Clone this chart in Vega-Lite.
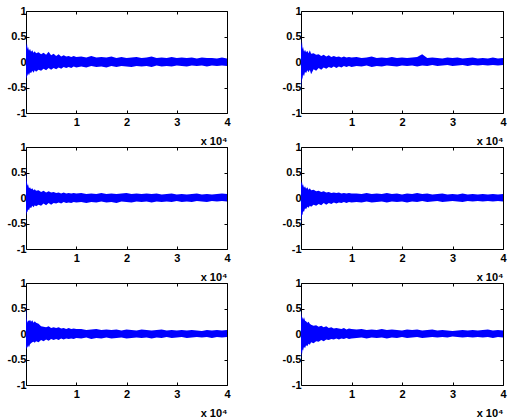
{
"$schema": "https://vega.github.io/schema/vega-lite/v6.json",
"padding": {"left": 7, "top": 5, "right": 2, "bottom": 1},
"bounds": "flush",
"spacing": {"row": 34, "column": 74},
"columns": 2,
"datasets": {
"p1": [
{"x":0,"h":0.42,"l":-0.30},{"x":100,"h":0.30,"l":-0.33},{"x":200,"h":0.36,"l":-0.25},{"x":300,"h":0.25,"l":-0.28},{"x":400,"h":0.30,"l":-0.22},{"x":600,"h":0.22,"l":-0.26},{"x":800,"h":0.26,"l":-0.20},{"x":1000,"h":0.20,"l":-0.22},{"x":1250,"h":0.23,"l":-0.17},{"x":1500,"h":0.18,"l":-0.21},{"x":1750,"h":0.21,"l":-0.16},
{"x":2000,"h":0.17,"l":-0.19},{"x":2500,"h":0.19,"l":-0.15},{"x":3000,"h":0.15,"l":-0.17},{"x":3500,"h":0.18,"l":-0.13},{"x":4000,"h":0.14,"l":-0.16},{"x":4500,"h":0.20,"l":-0.12},{"x":5000,"h":0.13,"l":-0.15},{"x":5500,"h":0.16,"l":-0.12},{"x":6000,"h":0.12,"l":-0.14},{"x":6500,"h":0.15,"l":-0.11},{"x":7000,"h":0.11,"l":-0.13},{"x":7500,"h":0.13,"l":-0.10},{"x":8000,"h":0.11,"l":-0.12},{"x":8500,"h":0.12,"l":-0.10},{"x":9000,"h":0.10,"l":-0.12},{"x":9500,"h":0.12,"l":-0.09},{"x":10000,"h":0.10,"l":-0.11},
{"x":11000,"h":0.11,"l":-0.09},{"x":12000,"h":0.09,"l":-0.11},{"x":13000,"h":0.12,"l":-0.08},{"x":14000,"h":0.09,"l":-0.10},{"x":15000,"h":0.10,"l":-0.09},{"x":16000,"h":0.09,"l":-0.11},{"x":17000,"h":0.11,"l":-0.08},{"x":18000,"h":0.08,"l":-0.10},{"x":19000,"h":0.10,"l":-0.08},{"x":20000,"h":0.08,"l":-0.09},{"x":21000,"h":0.09,"l":-0.10},{"x":22000,"h":0.10,"l":-0.08},{"x":23000,"h":0.08,"l":-0.09},{"x":24000,"h":0.09,"l":-0.08},{"x":25000,"h":0.11,"l":-0.10},{"x":26000,"h":0.08,"l":-0.07},{"x":27000,"h":0.09,"l":-0.09},{"x":28000,"h":0.08,"l":-0.08},{"x":29000,"h":0.10,"l":-0.09},{"x":30000,"h":0.08,"l":-0.07},{"x":31000,"h":0.09,"l":-0.08},{"x":32000,"h":0.08,"l":-0.09},{"x":33000,"h":0.09,"l":-0.07},{"x":34000,"h":0.07,"l":-0.08},{"x":35000,"h":0.09,"l":-0.07},{"x":36000,"h":0.08,"l":-0.09},{"x":37000,"h":0.08,"l":-0.07},{"x":38000,"h":0.07,"l":-0.08},{"x":39000,"h":0.09,"l":-0.07},{"x":40000,"h":0.07,"l":-0.08}
],
"p2": [
{"x":0,"h":0.45,"l":-0.52},{"x":100,"h":0.30,"l":-0.38},{"x":200,"h":0.40,"l":-0.30},{"x":300,"h":0.25,"l":-0.35},{"x":400,"h":0.30,"l":-0.24},{"x":600,"h":0.20,"l":-0.28},{"x":800,"h":0.24,"l":-0.19},{"x":1000,"h":0.19,"l":-0.22},{"x":1250,"h":0.22,"l":-0.16},{"x":1500,"h":0.17,"l":-0.20},{"x":1750,"h":0.23,"l":-0.15},
{"x":2000,"h":0.16,"l":-0.24},{"x":2500,"h":0.17,"l":-0.14},{"x":3000,"h":0.14,"l":-0.17},{"x":3500,"h":0.15,"l":-0.12},{"x":4000,"h":0.12,"l":-0.15},{"x":4500,"h":0.14,"l":-0.11},{"x":5000,"h":0.11,"l":-0.13},{"x":5500,"h":0.13,"l":-0.10},{"x":6000,"h":0.10,"l":-0.12},{"x":6500,"h":0.12,"l":-0.09},{"x":7000,"h":0.10,"l":-0.12},{"x":7500,"h":0.11,"l":-0.09},{"x":8000,"h":0.09,"l":-0.11},{"x":8500,"h":0.11,"l":-0.08},{"x":9000,"h":0.09,"l":-0.10},{"x":9500,"h":0.10,"l":-0.08},{"x":10000,"h":0.09,"l":-0.10},
{"x":11000,"h":0.10,"l":-0.08},{"x":12000,"h":0.08,"l":-0.09},{"x":13000,"h":0.09,"l":-0.07},{"x":14000,"h":0.11,"l":-0.10},{"x":15000,"h":0.08,"l":-0.08},{"x":16000,"h":0.09,"l":-0.09},{"x":17000,"h":0.08,"l":-0.07},{"x":18000,"h":0.10,"l":-0.08},{"x":19000,"h":0.08,"l":-0.09},{"x":20000,"h":0.09,"l":-0.07},{"x":21000,"h":0.08,"l":-0.08},{"x":22000,"h":0.09,"l":-0.07},{"x":23000,"h":0.10,"l":-0.09},{"x":24000,"h":0.15,"l":-0.07},{"x":25000,"h":0.08,"l":-0.08},{"x":26000,"h":0.09,"l":-0.06},{"x":27000,"h":0.08,"l":-0.08},{"x":28000,"h":0.07,"l":-0.07},{"x":29000,"h":0.09,"l":-0.06},{"x":30000,"h":0.08,"l":-0.08},{"x":31000,"h":0.09,"l":-0.07},{"x":32000,"h":0.07,"l":-0.06},{"x":33000,"h":0.08,"l":-0.08},{"x":34000,"h":0.09,"l":-0.06},{"x":35000,"h":0.07,"l":-0.07},{"x":36000,"h":0.08,"l":-0.06},{"x":37000,"h":0.07,"l":-0.07},{"x":38000,"h":0.09,"l":-0.06},{"x":39000,"h":0.07,"l":-0.07},{"x":40000,"h":0.08,"l":-0.06}
],
"p3": [
{"x":0,"h":0.55,"l":-0.35},{"x":100,"h":0.35,"l":-0.30},{"x":200,"h":0.30,"l":-0.26},{"x":300,"h":0.24,"l":-0.28},{"x":400,"h":0.27,"l":-0.22},{"x":600,"h":0.19,"l":-0.24},{"x":800,"h":0.21,"l":-0.18},{"x":1000,"h":0.17,"l":-0.20},{"x":1250,"h":0.19,"l":-0.15},{"x":1500,"h":0.15,"l":-0.18},{"x":1750,"h":0.17,"l":-0.14},
{"x":2000,"h":0.14,"l":-0.16},{"x":2500,"h":0.15,"l":-0.13},{"x":3000,"h":0.12,"l":-0.15},{"x":3500,"h":0.14,"l":-0.11},{"x":4000,"h":0.11,"l":-0.14},{"x":4500,"h":0.13,"l":-0.10},{"x":5000,"h":0.11,"l":-0.13},{"x":5500,"h":0.12,"l":-0.10},{"x":6000,"h":0.10,"l":-0.11},{"x":6500,"h":0.11,"l":-0.09},{"x":7000,"h":0.09,"l":-0.11},{"x":7500,"h":0.11,"l":-0.08},{"x":8000,"h":0.09,"l":-0.10},{"x":8500,"h":0.10,"l":-0.09},{"x":9000,"h":0.09,"l":-0.10},{"x":9500,"h":0.10,"l":-0.08},{"x":10000,"h":0.09,"l":-0.09},
{"x":11000,"h":0.10,"l":-0.08},{"x":12000,"h":0.08,"l":-0.10},{"x":13000,"h":0.09,"l":-0.08},{"x":14000,"h":0.08,"l":-0.09},{"x":15000,"h":0.10,"l":-0.07},{"x":16000,"h":0.08,"l":-0.09},{"x":17000,"h":0.09,"l":-0.08},{"x":18000,"h":0.08,"l":-0.10},{"x":19000,"h":0.09,"l":-0.07},{"x":20000,"h":0.10,"l":-0.08},{"x":21000,"h":0.08,"l":-0.09},{"x":22000,"h":0.09,"l":-0.07},{"x":23000,"h":0.08,"l":-0.08},{"x":24000,"h":0.09,"l":-0.07},{"x":25000,"h":0.08,"l":-0.09},{"x":26000,"h":0.09,"l":-0.07},{"x":27000,"h":0.07,"l":-0.08},{"x":28000,"h":0.08,"l":-0.07},{"x":29000,"h":0.09,"l":-0.08},{"x":30000,"h":0.07,"l":-0.06},{"x":31000,"h":0.08,"l":-0.08},{"x":32000,"h":0.07,"l":-0.07},{"x":33000,"h":0.08,"l":-0.08},{"x":34000,"h":0.09,"l":-0.06},{"x":35000,"h":0.07,"l":-0.07},{"x":36000,"h":0.08,"l":-0.08},{"x":37000,"h":0.07,"l":-0.06},{"x":38000,"h":0.08,"l":-0.07},{"x":39000,"h":0.09,"l":-0.06},{"x":40000,"h":0.08,"l":-0.07}
],
"p4": [
{"x":0,"h":0.35,"l":-0.50},{"x":100,"h":0.28,"l":-0.40},{"x":200,"h":0.32,"l":-0.32},{"x":300,"h":0.24,"l":-0.34},{"x":400,"h":0.27,"l":-0.26},{"x":600,"h":0.20,"l":-0.27},{"x":800,"h":0.23,"l":-0.20},{"x":1000,"h":0.18,"l":-0.22},{"x":1250,"h":0.21,"l":-0.17},{"x":1500,"h":0.16,"l":-0.19},{"x":1750,"h":0.19,"l":-0.15},
{"x":2000,"h":0.15,"l":-0.17},{"x":2500,"h":0.16,"l":-0.13},{"x":3000,"h":0.13,"l":-0.15},{"x":3500,"h":0.14,"l":-0.12},{"x":4000,"h":0.12,"l":-0.14},{"x":4500,"h":0.13,"l":-0.10},{"x":5000,"h":0.11,"l":-0.13},{"x":5500,"h":0.12,"l":-0.10},{"x":6000,"h":0.10,"l":-0.12},{"x":6500,"h":0.11,"l":-0.09},{"x":7000,"h":0.10,"l":-0.11},{"x":7500,"h":0.11,"l":-0.09},{"x":8000,"h":0.09,"l":-0.10},{"x":8500,"h":0.10,"l":-0.08},{"x":9000,"h":0.09,"l":-0.10},{"x":9500,"h":0.10,"l":-0.08},{"x":10000,"h":0.09,"l":-0.09},
{"x":11000,"h":0.09,"l":-0.08},{"x":12000,"h":0.08,"l":-0.09},{"x":13000,"h":0.10,"l":-0.07},{"x":14000,"h":0.08,"l":-0.09},{"x":15000,"h":0.09,"l":-0.08},{"x":16000,"h":0.08,"l":-0.07},{"x":17000,"h":0.10,"l":-0.09},{"x":18000,"h":0.08,"l":-0.07},{"x":19000,"h":0.09,"l":-0.08},{"x":20000,"h":0.07,"l":-0.07},{"x":21000,"h":0.09,"l":-0.09},{"x":22000,"h":0.08,"l":-0.07},{"x":23000,"h":0.10,"l":-0.08},{"x":24000,"h":0.08,"l":-0.06},{"x":25000,"h":0.09,"l":-0.08},{"x":26000,"h":0.07,"l":-0.07},{"x":27000,"h":0.08,"l":-0.06},{"x":28000,"h":0.09,"l":-0.08},{"x":29000,"h":0.07,"l":-0.07},{"x":30000,"h":0.08,"l":-0.06},{"x":31000,"h":0.07,"l":-0.07},{"x":32000,"h":0.09,"l":-0.08},{"x":33000,"h":0.07,"l":-0.06},{"x":34000,"h":0.08,"l":-0.07},{"x":35000,"h":0.07,"l":-0.06},{"x":36000,"h":0.08,"l":-0.07},{"x":37000,"h":0.07,"l":-0.06},{"x":38000,"h":0.08,"l":-0.07},{"x":39000,"h":0.07,"l":-0.06},{"x":40000,"h":0.08,"l":-0.07}
],
"p5": [
{"x":0,"h":0.62,"l":-0.30},{"x":100,"h":0.30,"l":-0.28},{"x":200,"h":0.26,"l":-0.25},{"x":300,"h":0.22,"l":-0.27},{"x":400,"h":0.27,"l":-0.22},{"x":600,"h":0.25,"l":-0.26},{"x":800,"h":0.28,"l":-0.20},{"x":1000,"h":0.24,"l":-0.18},{"x":1250,"h":0.27,"l":-0.16},{"x":1500,"h":0.22,"l":-0.15},{"x":1750,"h":0.25,"l":-0.17},
{"x":2000,"h":0.22,"l":-0.14},{"x":2500,"h":0.20,"l":-0.16},{"x":3000,"h":0.15,"l":-0.12},{"x":3500,"h":0.14,"l":-0.14},{"x":4000,"h":0.13,"l":-0.11},{"x":4500,"h":0.15,"l":-0.13},{"x":5000,"h":0.12,"l":-0.10},{"x":5500,"h":0.13,"l":-0.12},{"x":6000,"h":0.12,"l":-0.10},{"x":6500,"h":0.13,"l":-0.12},{"x":7000,"h":0.11,"l":-0.09},{"x":7500,"h":0.12,"l":-0.11},{"x":8000,"h":0.10,"l":-0.09},{"x":8500,"h":0.12,"l":-0.10},{"x":9000,"h":0.10,"l":-0.09},{"x":9500,"h":0.11,"l":-0.10},{"x":10000,"h":0.10,"l":-0.08},
{"x":11000,"h":0.10,"l":-0.09},{"x":12000,"h":0.08,"l":-0.07},{"x":13000,"h":0.09,"l":-0.10},{"x":14000,"h":0.10,"l":-0.08},{"x":15000,"h":0.08,"l":-0.09},{"x":16000,"h":0.09,"l":-0.07},{"x":17000,"h":0.08,"l":-0.09},{"x":18000,"h":0.09,"l":-0.08},{"x":19000,"h":0.07,"l":-0.07},{"x":20000,"h":0.09,"l":-0.09},{"x":21000,"h":0.08,"l":-0.08},{"x":22000,"h":0.07,"l":-0.07},{"x":23000,"h":0.09,"l":-0.08},{"x":24000,"h":0.08,"l":-0.07},{"x":25000,"h":0.07,"l":-0.09},{"x":26000,"h":0.08,"l":-0.07},{"x":27000,"h":0.09,"l":-0.08},{"x":28000,"h":0.07,"l":-0.06},{"x":29000,"h":0.08,"l":-0.08},{"x":30000,"h":0.07,"l":-0.07},{"x":31000,"h":0.08,"l":-0.06},{"x":32000,"h":0.07,"l":-0.08},{"x":33000,"h":0.08,"l":-0.07},{"x":34000,"h":0.07,"l":-0.06},{"x":35000,"h":0.06,"l":-0.07},{"x":36000,"h":0.08,"l":-0.06},{"x":37000,"h":0.07,"l":-0.08},{"x":38000,"h":0.08,"l":-0.06},{"x":39000,"h":0.07,"l":-0.07},{"x":40000,"h":0.08,"l":-0.06}
],
"p6": [
{"x":0,"h":0.45,"l":-0.50},{"x":100,"h":0.36,"l":-0.34},{"x":200,"h":0.30,"l":-0.40},{"x":300,"h":0.34,"l":-0.30},{"x":400,"h":0.28,"l":-0.33},{"x":600,"h":0.33,"l":-0.25},{"x":800,"h":0.26,"l":-0.28},{"x":1000,"h":0.25,"l":-0.22},{"x":1250,"h":0.22,"l":-0.24},{"x":1500,"h":0.24,"l":-0.19},{"x":1750,"h":0.20,"l":-0.21},
{"x":2000,"h":0.18,"l":-0.16},{"x":2500,"h":0.16,"l":-0.18},{"x":3000,"h":0.17,"l":-0.14},{"x":3500,"h":0.14,"l":-0.15},{"x":4000,"h":0.16,"l":-0.12},{"x":4500,"h":0.13,"l":-0.14},{"x":5000,"h":0.15,"l":-0.11},{"x":5500,"h":0.12,"l":-0.12},{"x":6000,"h":0.13,"l":-0.10},{"x":6500,"h":0.11,"l":-0.11},{"x":7000,"h":0.12,"l":-0.09},{"x":7500,"h":0.11,"l":-0.11},{"x":8000,"h":0.10,"l":-0.09},{"x":8500,"h":0.12,"l":-0.10},{"x":9000,"h":0.09,"l":-0.08},{"x":9500,"h":0.11,"l":-0.10},{"x":10000,"h":0.10,"l":-0.09},
{"x":11000,"h":0.09,"l":-0.08},{"x":12000,"h":0.10,"l":-0.07},{"x":13000,"h":0.08,"l":-0.09},{"x":14000,"h":0.09,"l":-0.07},{"x":15000,"h":0.08,"l":-0.08},{"x":16000,"h":0.10,"l":-0.07},{"x":17000,"h":0.08,"l":-0.09},{"x":18000,"h":0.09,"l":-0.07},{"x":19000,"h":0.08,"l":-0.08},{"x":20000,"h":0.07,"l":-0.06},{"x":21000,"h":0.09,"l":-0.08},{"x":22000,"h":0.08,"l":-0.07},{"x":23000,"h":0.09,"l":-0.06},{"x":24000,"h":0.07,"l":-0.08},{"x":25000,"h":0.08,"l":-0.07},{"x":26000,"h":0.09,"l":-0.06},{"x":27000,"h":0.07,"l":-0.07},{"x":28000,"h":0.08,"l":-0.06},{"x":29000,"h":0.07,"l":-0.07},{"x":30000,"h":0.06,"l":-0.05},{"x":31000,"h":0.07,"l":-0.06},{"x":32000,"h":0.08,"l":-0.07},{"x":33000,"h":0.07,"l":-0.06},{"x":34000,"h":0.08,"l":-0.07},{"x":35000,"h":0.07,"l":-0.06},{"x":36000,"h":0.08,"l":-0.07},{"x":37000,"h":0.09,"l":-0.06},{"x":38000,"h":0.07,"l":-0.08},{"x":39000,"h":0.08,"l":-0.06},{"x":40000,"h":0.07,"l":-0.07}
]
},
"concat": [
{"data": {"name": "p1"}, "width": 201, "height": 102,
 "layer": [
  {"mark": {"type": "area", "interpolate": "linear", "color": "#0000ff"},
   "encoding": {
    "x": {"field": "x", "type": "quantitative", "scale": {"domain": [0, 40000], "nice": false, "zero": false}, "axis": {"orient": "bottom", "values": [10000, 20000, 30000, 40000], "labelExpr": "toString(datum.value/10000)", "title": "x 10⁴", "labelPadding": 6}},
    "y": {"field": "h", "type": "quantitative", "scale": {"domain": [-1, 1], "nice": false}, "axis": {"orient": "left", "values": [-1, -0.5, 0, 0.5, 1], "labelExpr": "toString(datum.value)", "title": null}},
    "y2": {"field": "l"}}},
  {"mark": {"type": "area", "interpolate": "linear", "opacity": 0},
   "encoding": {
    "x": {"field": "x", "type": "quantitative", "axis": {"orient": "top", "values": [10000, 20000, 30000, 40000], "labels": false, "title": null}},
    "y": {"field": "h", "type": "quantitative", "axis": {"orient": "right", "values": [-1, -0.5, 0, 0.5, 1], "labels": false, "title": null}},
    "y2": {"field": "l"}}}
 ],
 "resolve": {"axis": {"x": "independent", "y": "independent"}}},
{"data": {"name": "p2"}, "width": 202, "height": 102,
 "layer": [
  {"mark": {"type": "area", "interpolate": "linear", "color": "#0000ff"},
   "encoding": {
    "x": {"field": "x", "type": "quantitative", "scale": {"domain": [0, 40000], "nice": false, "zero": false}, "axis": {"orient": "bottom", "values": [10000, 20000, 30000, 40000], "labelExpr": "toString(datum.value/10000)", "title": "x 10⁴", "labelPadding": 6}},
    "y": {"field": "h", "type": "quantitative", "scale": {"domain": [-1, 1], "nice": false}, "axis": {"orient": "left", "values": [-1, -0.5, 0, 0.5, 1], "labelExpr": "toString(datum.value)", "title": null}},
    "y2": {"field": "l"}}},
  {"mark": {"type": "area", "interpolate": "linear", "opacity": 0},
   "encoding": {
    "x": {"field": "x", "type": "quantitative", "axis": {"orient": "top", "values": [10000, 20000, 30000, 40000], "labels": false, "title": null}},
    "y": {"field": "h", "type": "quantitative", "axis": {"orient": "right", "values": [-1, -0.5, 0, 0.5, 1], "labels": false, "title": null}},
    "y2": {"field": "l"}}}
 ],
 "resolve": {"axis": {"x": "independent", "y": "independent"}}},
{"data": {"name": "p3"}, "width": 201, "height": 102,
 "layer": [
  {"mark": {"type": "area", "interpolate": "linear", "color": "#0000ff"},
   "encoding": {
    "x": {"field": "x", "type": "quantitative", "scale": {"domain": [0, 40000], "nice": false, "zero": false}, "axis": {"orient": "bottom", "values": [10000, 20000, 30000, 40000], "labelExpr": "toString(datum.value/10000)", "title": "x 10⁴", "labelPadding": 6}},
    "y": {"field": "h", "type": "quantitative", "scale": {"domain": [-1, 1], "nice": false}, "axis": {"orient": "left", "values": [-1, -0.5, 0, 0.5, 1], "labelExpr": "toString(datum.value)", "title": null}},
    "y2": {"field": "l"}}},
  {"mark": {"type": "area", "interpolate": "linear", "opacity": 0},
   "encoding": {
    "x": {"field": "x", "type": "quantitative", "axis": {"orient": "top", "values": [10000, 20000, 30000, 40000], "labels": false, "title": null}},
    "y": {"field": "h", "type": "quantitative", "axis": {"orient": "right", "values": [-1, -0.5, 0, 0.5, 1], "labels": false, "title": null}},
    "y2": {"field": "l"}}}
 ],
 "resolve": {"axis": {"x": "independent", "y": "independent"}}},
{"data": {"name": "p4"}, "width": 202, "height": 102,
 "layer": [
  {"mark": {"type": "area", "interpolate": "linear", "color": "#0000ff"},
   "encoding": {
    "x": {"field": "x", "type": "quantitative", "scale": {"domain": [0, 40000], "nice": false, "zero": false}, "axis": {"orient": "bottom", "values": [10000, 20000, 30000, 40000], "labelExpr": "toString(datum.value/10000)", "title": "x 10⁴", "labelPadding": 6}},
    "y": {"field": "h", "type": "quantitative", "scale": {"domain": [-1, 1], "nice": false}, "axis": {"orient": "left", "values": [-1, -0.5, 0, 0.5, 1], "labelExpr": "toString(datum.value)", "title": null}},
    "y2": {"field": "l"}}},
  {"mark": {"type": "area", "interpolate": "linear", "opacity": 0},
   "encoding": {
    "x": {"field": "x", "type": "quantitative", "axis": {"orient": "top", "values": [10000, 20000, 30000, 40000], "labels": false, "title": null}},
    "y": {"field": "h", "type": "quantitative", "axis": {"orient": "right", "values": [-1, -0.5, 0, 0.5, 1], "labels": false, "title": null}},
    "y2": {"field": "l"}}}
 ],
 "resolve": {"axis": {"x": "independent", "y": "independent"}}},
{"data": {"name": "p5"}, "width": 201, "height": 102,
 "layer": [
  {"mark": {"type": "area", "interpolate": "linear", "color": "#0000ff"},
   "encoding": {
    "x": {"field": "x", "type": "quantitative", "scale": {"domain": [0, 40000], "nice": false, "zero": false}, "axis": {"orient": "bottom", "values": [10000, 20000, 30000, 40000], "labelExpr": "toString(datum.value/10000)", "title": "x 10⁴", "labelPadding": 6}},
    "y": {"field": "h", "type": "quantitative", "scale": {"domain": [-1, 1], "nice": false}, "axis": {"orient": "left", "values": [-1, -0.5, 0, 0.5, 1], "labelExpr": "toString(datum.value)", "title": null}},
    "y2": {"field": "l"}}},
  {"mark": {"type": "area", "interpolate": "linear", "opacity": 0},
   "encoding": {
    "x": {"field": "x", "type": "quantitative", "axis": {"orient": "top", "values": [10000, 20000, 30000, 40000], "labels": false, "title": null}},
    "y": {"field": "h", "type": "quantitative", "axis": {"orient": "right", "values": [-1, -0.5, 0, 0.5, 1], "labels": false, "title": null}},
    "y2": {"field": "l"}}}
 ],
 "resolve": {"axis": {"x": "independent", "y": "independent"}}},
{"data": {"name": "p6"}, "width": 202, "height": 102,
 "layer": [
  {"mark": {"type": "area", "interpolate": "linear", "color": "#0000ff"},
   "encoding": {
    "x": {"field": "x", "type": "quantitative", "scale": {"domain": [0, 40000], "nice": false, "zero": false}, "axis": {"orient": "bottom", "values": [10000, 20000, 30000, 40000], "labelExpr": "toString(datum.value/10000)", "title": "x 10⁴", "labelPadding": 6}},
    "y": {"field": "h", "type": "quantitative", "scale": {"domain": [-1, 1], "nice": false}, "axis": {"orient": "left", "values": [-1, -0.5, 0, 0.5, 1], "labelExpr": "toString(datum.value)", "title": null}},
    "y2": {"field": "l"}}},
  {"mark": {"type": "area", "interpolate": "linear", "opacity": 0},
   "encoding": {
    "x": {"field": "x", "type": "quantitative", "axis": {"orient": "top", "values": [10000, 20000, 30000, 40000], "labels": false, "title": null}},
    "y": {"field": "h", "type": "quantitative", "axis": {"orient": "right", "values": [-1, -0.5, 0, 0.5, 1], "labels": false, "title": null}},
    "y2": {"field": "l"}}}
 ],
 "resolve": {"axis": {"x": "independent", "y": "independent"}}}
],
"config": {
 "view": {"stroke": null},
 "axis": {"grid": false, "domainColor": "#000000", "domainWidth": 1, "tickColor": "#000000", "tickSize": -3, "tickWidth": 1,
  "labelColor": "#000000", "labelFont": "Liberation Sans", "labelFontWeight": "bold", "labelFontSize": 11, "labelPadding": 3,
  "labelFlush": false, "labelOverlap": false,
  "titleFont": "Liberation Sans", "titleFontWeight": "bold", "titleFontSize": 11, "titleColor": "#000000", "titleAnchor": "end", "titlePadding": 8}
}
}
